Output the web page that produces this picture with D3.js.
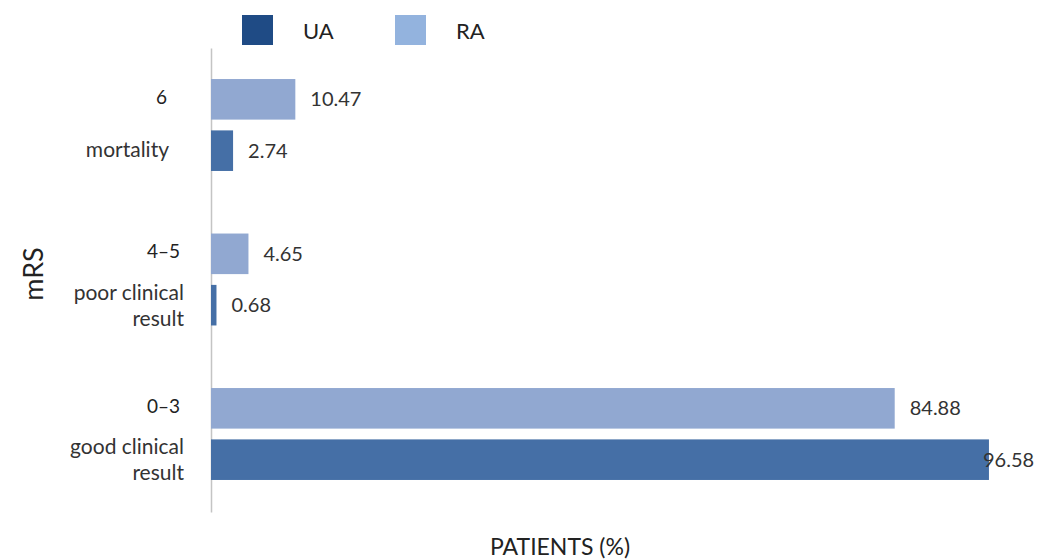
<!DOCTYPE html>
<html>
<head>
<meta charset="utf-8">
<script src="https://cdn.jsdelivr.net/npm/d3@7"></script>
<style>
  body { margin: 0; background: #fff; }
  text { font-family: Lato, "Open Sans", sans-serif; }
</style>
</head>
<body>
<div id="chart"></div>
<script>
// data
var categories = ['6', '4\u20135', '0\u20133'];
var categoryNames = [['mortality'], ['poor clinical', 'result'], ['good clinical', 'result']];
var seriesNames = ['RA', 'UA'];
var raValues = [10.47, 4.65, 84.88];
var uaValues = [2.74, 0.68, 96.58];
var legendOrder = ['UA', 'RA'];

var svgWidth = 1052;
var svgHeight = 560;

var colors = { RA: '#91a8d1', UA: '#456fa6' };
var legendColors = { UA: '#1f4b85', RA: '#93b3de' };

var svg = d3.select('#chart')
  .append('svg')
  .attr('width', svgWidth)
  .attr('height', svgHeight);

var left = 211;

var x = d3.scaleLinear()
  .domain([0, 100])
  .range([left, left + 805.5]);

var yGroup = d3.scaleBand()
  .domain(categories)
  .range([47.75, 511.25])
  .paddingInner(0.405)
  .paddingOuter(0.2025);

var ySeries = d3.scaleBand()
  .domain(seriesNames)
  .range([0, yGroup.bandwidth()])
  .paddingInner(0.21);

var rows = [];
categories.forEach(function(c, i) {
  rows.push({ cat: c, series: 'RA', value: raValues[i] });
  rows.push({ cat: c, series: 'UA', value: uaValues[i] });
});

// axis line (vertical, no ticks)
var axis = svg.append('g')
  .attr('transform', 'translate(' + left + ',0)')
  .call(d3.axisLeft(d3.scaleLinear().range([48, 512])).ticks(0).tickSize(0).tickSizeOuter(0));
axis.select('.domain').attr('stroke', '#c4c4c4').attr('stroke-width', 1.5);

// bars
svg.selectAll('rect.bar')
  .data(rows)
  .enter()
  .append('rect')
  .attr('class', 'bar')
  .attr('x', x(0))
  .attr('y', function(d) { return yGroup(d.cat) + ySeries(d.series); })
  .attr('width', function(d) { return x(d.value) - x(0); })
  .attr('height', ySeries.bandwidth())
  .attr('fill', function(d) { return colors[d.series]; });

// value labels
svg.selectAll('text.val')
  .data(rows)
  .enter()
  .append('text')
  .attr('class', 'val')
  .attr('x', function(d) { return Math.min(x(d.value) + 15, 983); })
  .attr('y', function(d) { return yGroup(d.cat) + ySeries(d.series) + ySeries.bandwidth() / 2; })
  .attr('dy', '0.35em')
  .attr('font-size', 20)
  .attr('fill', '#333')
  .text(function(d) { return d.value.toFixed(2); });

// category labels
var catG = svg.selectAll('g.cat')
  .data(categories)
  .enter()
  .append('g')
  .attr('class', 'cat');

catG.append('text')
  .attr('x', function(d, i) { return i === 0 ? 167 : 180; })
  .attr('y', function(d) { return yGroup(d) + ySeries('RA') + ySeries.bandwidth() / 2 - 2; })
  .attr('dy', '0.35em')
  .attr('text-anchor', 'end')
  .attr('font-size', 19)
  .attr('fill', '#222')
  .text(function(d) { return d; });

catG.each(function(d, i) {
  var lines = categoryNames[i];
  var yc = yGroup(d) + ySeries('UA') + ySeries.bandwidth() / 2;
  var start = lines.length === 1 ? yc - 1 : yc - 13;
  d3.select(this).selectAll('text.name')
    .data(lines)
    .enter()
    .append('text')
    .attr('class', 'name')
    .attr('x', i === 0 ? 169 : 184)
    .attr('y', function(l, j) { return start + j * 26; })
    .attr('dy', '0.35em')
    .attr('text-anchor', 'end')
    .attr('font-size', 21)
    .attr('fill', '#333')
    .text(function(l) { return l; });
});

// axis titles
svg.append('text')
  .attr('transform', 'translate(43,274) rotate(-90)')
  .attr('text-anchor', 'middle')
  .attr('font-size', 27)
  .attr('fill', '#222')
  .text('mRS');

svg.append('text')
  .attr('x', 560)
  .attr('y', 555)
  .attr('text-anchor', 'middle')
  .attr('font-size', 23)
  .attr('fill', '#222')
  .text('PATIENTS (%)');

// legend
var legendX = d3.scalePoint()
  .domain(legendOrder)
  .range([242, 395]);

var leg = svg.selectAll('g.legend')
  .data(legendOrder)
  .enter()
  .append('g')
  .attr('class', 'legend')
  .attr('transform', function(d) { return 'translate(' + legendX(d) + ',15)'; });

leg.append('rect')
  .attr('width', 31)
  .attr('height', 30)
  .attr('fill', function(d) { return legendColors[d]; });

leg.append('text')
  .attr('x', 61)
  .attr('y', 16)
  .attr('dy', '0.35em')
  .attr('font-size', 22)
  .attr('fill', '#222')
  .text(function(d) { return d; });
</script>
</body>
</html>
